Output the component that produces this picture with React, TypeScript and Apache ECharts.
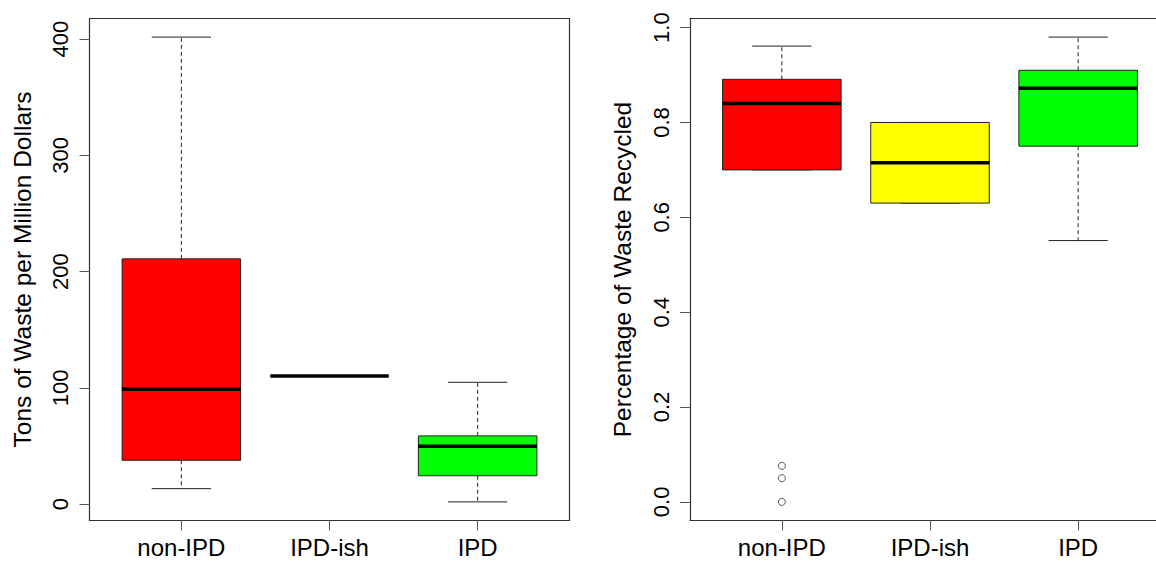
import React, { useEffect, useRef } from "react";
import * as echarts from "echarts";

// ---- data ----
const categories = ["non-IPD", "IPD-ish", "IPD"];
// [low whisker, Q1, median, Q3, high whisker]
const wasteStats = [
  [13.3, 37.7, 98.8, 211, 401.8],
  [110.3, 110.3, 110.3, 110.3, 110.3],
  [1.9, 24.4, 49.7, 58.7, 104.8],
];
const recycledStats = [
  [0.7, 0.7, 0.84, 0.891, 0.961],
  [0.63, 0.63, 0.715, 0.8, 0.8],
  [0.551, 0.75, 0.872, 0.91, 0.98],
];
// [category position (1-based), value]
const recycledOutliers = [
  [1, 0.076],
  [1, 0.05],
  [1, 0.0],
];
const wasteTicks = [0, 100, 200, 300, 400];
const recycledTicks = [0, 0.2, 0.4, 0.6, 0.8, 1.0];
const wasteTitle = "Tons of Waste per Million Dollars";
const recycledTitle = "Percentage of Waste Recycled";

const BOX_COLORS = ["#ff0000", "#ffff00", "#00ff00"];
const FONT = "'Liberation Sans', Arial, sans-serif";
const FRAME = { color: "#333", width: 1.2 };

function renderBox(params: any, api: any) {
  const x = api.value(0);
  const low = api.value(1);
  const q1 = api.value(2);
  const med = api.value(3);
  const q3 = api.value(4);
  const high = api.value(5);
  const halfBox = api.size([0.4, 0])[0];
  const halfCap = api.size([0.2, 0])[0];
  const pLow = api.coord([x, low]);
  const pQ1 = api.coord([x, q1]);
  const pMed = api.coord([x, med]);
  const pQ3 = api.coord([x, q3]);
  const pHigh = api.coord([x, high]);
  const cx = pMed[0];
  const lineStyle = { stroke: "#222", lineWidth: 1 };
  const dashStyle = { stroke: "#222", lineWidth: 1, lineDash: [4, 3] };
  const children: any[] = [];
  if (pHigh[1] < pQ3[1]) {
    children.push({ type: "line", shape: { x1: cx, y1: pQ3[1], x2: cx, y2: pHigh[1] }, style: dashStyle });
  }
  if (pLow[1] > pQ1[1]) {
    children.push({ type: "line", shape: { x1: cx, y1: pQ1[1], x2: cx, y2: pLow[1] }, style: dashStyle });
  }
  children.push({ type: "line", shape: { x1: cx - halfCap, y1: pHigh[1], x2: cx + halfCap, y2: pHigh[1] }, style: lineStyle });
  children.push({ type: "line", shape: { x1: cx - halfCap, y1: pLow[1], x2: cx + halfCap, y2: pLow[1] }, style: lineStyle });
  if (pQ1[1] - pQ3[1] > 0.5) {
    children.push({
      type: "rect",
      shape: { x: cx - halfBox, y: pQ3[1], width: halfBox * 2, height: pQ1[1] - pQ3[1] },
      style: { fill: BOX_COLORS[params.dataIndex], stroke: "#222", lineWidth: 1 },
    });
  }
  children.push({
    type: "line",
    shape: { x1: cx - halfBox, y1: pMed[1], x2: cx + halfBox, y2: pMed[1] },
    style: { stroke: "#000", lineWidth: 3.5 },
  });
  return { type: "group", children };
}

function makeX(gridIndex: number, showLine: boolean) {
  return {
    type: "value",
    gridIndex,
    min: 0.38,
    max: 3.62,
    splitLine: { show: false },
    axisLine: { show: showLine, onZero: false, lineStyle: FRAME },
    axisTick: { show: true, customValues: [1, 2, 3], length: 10, lineStyle: { color: "#555", width: 1 } },
    axisLabel: {
      customValues: [1, 2, 3],
      formatter: (v: number) => categories[Math.round(v) - 1] ?? "",
      fontSize: 24,
      color: "#000",
      fontFamily: FONT,
      margin: 15,
    },
  };
}

function makeTopLine(gridIndex: number) {
  return {
    type: "value",
    gridIndex,
    position: "top",
    min: 0.38,
    max: 3.62,
    splitLine: { show: false },
    axisLine: { show: true, onZero: false, lineStyle: FRAME },
    axisTick: { show: false },
    axisLabel: { show: false },
  };
}

function makeY(gridIndex: number, min: number, max: number, ticks: number[], title: string, dec: number, showLine: boolean) {
  return {
    type: "value",
    gridIndex,
    min,
    max,
    name: title,
    nameLocation: "middle",
    nameRotate: 90,
    nameGap: 55,
    nameTextStyle: { fontSize: 24.5, color: "#000", fontFamily: FONT },
    splitLine: { show: false },
    axisLine: { show: showLine, onZero: false, lineStyle: FRAME },
    axisTick: { show: true, customValues: ticks, length: 10, lineStyle: { color: "#555", width: 1 } },
    axisLabel: {
      customValues: ticks,
      rotate: 90,
      formatter: (v: number) => v.toFixed(dec),
      fontSize: 22,
      color: "#000",
      fontFamily: FONT,
      margin: 18,
    },
  };
}

export default function App() {
  const ref = useRef<HTMLDivElement>(null);
  useEffect(() => {
    if (!ref.current) return;
    const chart = echarts.init(ref.current, null, { renderer: "svg" });
    const gridBase = {
      top: 18.5,
      width: 480,
      height: 502,
      backgroundColor: "transparent",
      containLabel: false,
      outerBoundsMode: "none",
    };
    chart.setOption({
      animation: false,
      backgroundColor: "#fff",
      grid: [
        { ...gridBase, left: 89.5, show: true, borderColor: FRAME.color, borderWidth: FRAME.width },
        { ...gridBase, left: 690, show: false },
      ],
      xAxis: [makeX(0, false), makeX(1, true), makeTopLine(1)],
      yAxis: [
        makeY(0, -14.1, 417.8, wasteTicks, wasteTitle, 0, false),
        makeY(1, -0.0392, 1.0192, recycledTicks, recycledTitle, 1, true),
      ],
      series: [
        {
          type: "custom",
          xAxisIndex: 0,
          yAxisIndex: 0,
          renderItem: renderBox,
          encode: { x: 0, y: [1, 2, 3, 4, 5] },
          data: wasteStats.map((s, i) => [i + 1, ...s]),
        },
        {
          type: "custom",
          xAxisIndex: 1,
          yAxisIndex: 1,
          renderItem: renderBox,
          encode: { x: 0, y: [1, 2, 3, 4, 5] },
          data: recycledStats.map((s, i) => [i + 1, ...s]),
        },
        {
          type: "scatter",
          xAxisIndex: 1,
          yAxisIndex: 1,
          symbol: "circle",
          symbolSize: 7,
          itemStyle: { color: "#fff", borderColor: "#333", borderWidth: 1 },
          data: recycledOutliers,
        },
      ],
    });
    return () => chart.dispose();
  }, []);
  return (
    <div
      ref={ref}
      style={{ position: "fixed", left: 0, top: 0, width: 1156, height: 562, overflow: "hidden" }}
    />
  );
}
